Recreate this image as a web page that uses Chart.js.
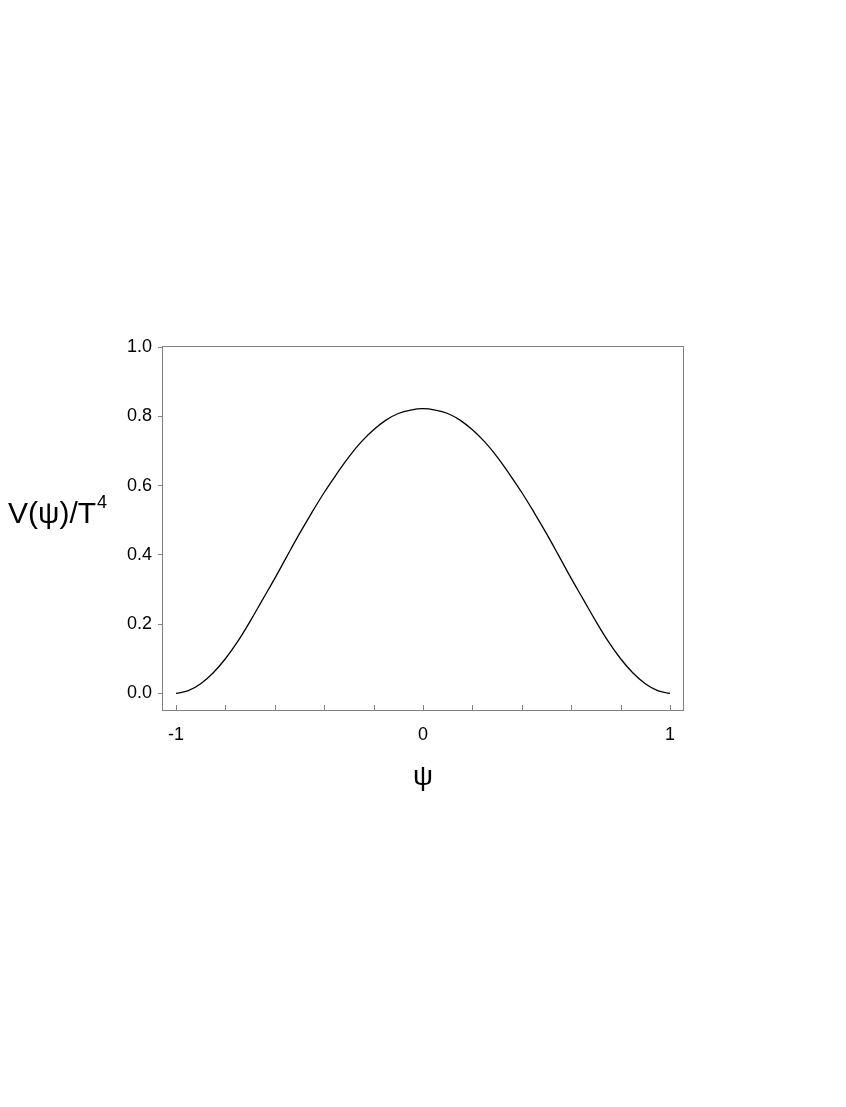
<!DOCTYPE html>
<html>
<head>
<meta charset="utf-8">
<script src="https://cdn.jsdelivr.net/npm/chart.js@4"></script>
<style>
  body { margin: 0; background: #fff; }
  #wrap { width: 846px; height: 1107px; position: relative; }
</style>
</head>
<body>
<div id="wrap"><canvas id="grafico"></canvas></div>
<script>
// valores
const psi = [-1, -0.95, -0.9, -0.85, -0.8, -0.75, -0.7, -0.65, -0.6, -0.55, -0.5,
             -0.45, -0.4, -0.35, -0.3, -0.25, -0.2, -0.15, -0.1, -0.05, 0,
             0.05, 0.1, 0.15, 0.2, 0.25, 0.3, 0.35, 0.4, 0.45, 0.5,
             0.55, 0.6, 0.65, 0.7, 0.75, 0.8, 0.85, 0.9, 0.95, 1];
const potencial = [0.000, 0.008, 0.028, 0.059, 0.100, 0.150, 0.208, 0.270, 0.332, 0.397, 0.461,
                   0.522, 0.580, 0.633, 0.683, 0.726, 0.761, 0.789, 0.808, 0.818, 0.822,
                   0.818, 0.808, 0.789, 0.761, 0.726, 0.683, 0.633, 0.580, 0.522, 0.461,
                   0.397, 0.332, 0.270, 0.208, 0.150, 0.100, 0.059, 0.028, 0.008, 0.000];
const xTicks = [-1, -0.8, -0.6, -0.4, -0.2, 0, 0.2, 0.4, 0.6, 0.8, 1];
const yTicks = [0, 0.2, 0.4, 0.6, 0.8, 1.0];

const cinza = "#808080";
const fonte = "'Liberation Sans', Arial, Helvetica, sans-serif";

// moldura, ticks para dentro no eixo x e rotulos dos eixos
const extras = {
    id: "extras",
    afterDraw(chart) {
        const ctx = chart.ctx;
        const a = chart.chartArea;
        const x = chart.scales.x;
        ctx.save();
        ctx.strokeStyle = cinza;
        ctx.lineWidth = 1;
        ctx.strokeRect(a.left - 0.5, a.top - 0.5, a.right - a.left + 1, a.bottom - a.top + 1);
        ctx.beginPath();
        x.ticks.forEach(t => {
            const px = Math.round(x.getPixelForValue(t.value)) + 0.5;
            ctx.moveTo(px, a.bottom);
            ctx.lineTo(px, a.bottom - 5);
        });
        ctx.stroke();

        ctx.fillStyle = "#000";
        ctx.textBaseline = "alphabetic";
        ctx.textAlign = "left";
        ctx.font = "30px " + fonte;
        const txt = "V(ψ)/T";
        ctx.fillText(txt, 8, 523);
        const w = ctx.measureText(txt).width;
        ctx.font = "18px " + fonte;
        ctx.fillText("4", 8 + w + 1, 508);

        ctx.textAlign = "center";
        ctx.font = "28px " + fonte;
        ctx.fillText("ψ", (x.left + x.right) / 2, 785);
        ctx.restore();
    }
};

new Chart(document.getElementById("grafico"), {
    type: "line",
    data: {
        datasets: [{
            data: psi.map((p, i) => ({ x: p, y: potencial[i] })),
            borderColor: "#000",
            borderWidth: 1.3,
            pointRadius: 0,
            fill: false,
            tension: 0.4
        }]
    },
    options: {
        responsive: true,
        maintainAspectRatio: false,
        animation: false,
        layout: { padding: { left: 0, top: 347, right: 163, bottom: 297 } },
        plugins: { legend: { display: false }, tooltip: { enabled: false } },
        scales: {
            x: {
                type: "linear",
                min: -1.0526,
                max: 1.0526,
                afterBuildTicks: s => { s.ticks = xTicks.map(v => ({ value: v })); },
                afterFit: s => { s.height = 100; },
                grid: { drawOnChartArea: false, drawTicks: false },
                border: { display: false },
                ticks: {
                    color: "#000",
                    padding: 14,
                    maxRotation: 0,
                    font: { family: fonte, size: 18 },
                    callback: v => (Number.isInteger(v) ? String(v) : "")
                }
            },
            y: {
                min: -0.048,
                max: 1.0,
                afterBuildTicks: s => { s.ticks = yTicks.map(v => ({ value: v })); },
                afterFit: s => { s.width = 163; },
                grid: { drawOnChartArea: false, tickLength: 5, color: cinza },
                border: { display: false },
                ticks: {
                    color: "#000",
                    padding: 6,
                    font: { family: fonte, size: 18 },
                    callback: v => v.toFixed(1)
                }
            }
        }
    },
    plugins: [extras]
});
</script>
</body>
</html>
